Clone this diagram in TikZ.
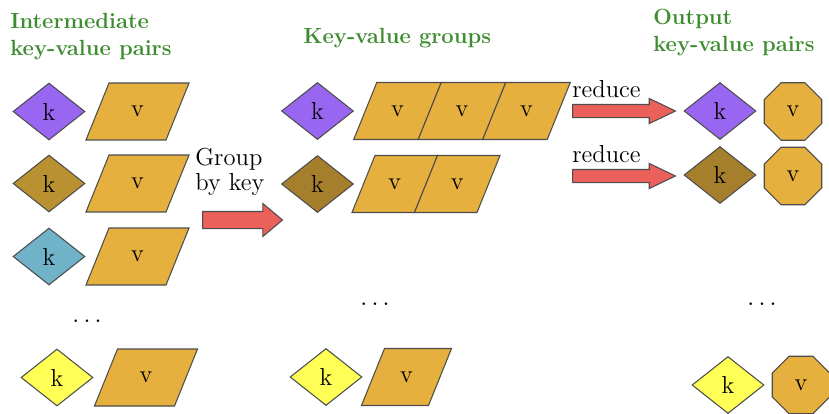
\documentclass[tikz,border=0pt]{standalone}
\usepackage{xcolor}
\usepackage{tikz}
\usetikzlibrary{shapes}
\usetikzlibrary{arrows}
\definecolor{keypurple}{HTML}{9966F2}
\definecolor{keybrown}{HTML}{B99130}
\definecolor{keydark}{HTML}{A67F2D}
\definecolor{keyteal}{HTML}{70B2C8}
\definecolor{keyyellow}{HTML}{FFFF55}
\definecolor{valorange}{HTML}{E6B03E}
\definecolor{arrowred}{HTML}{EB605A}
\definecolor{headgreen}{HTML}{3E8C30}
\definecolor{edgegray}{HTML}{4D4D4D}
\tikzset{
  key node/.style={diamond,draw=edgegray,line width=0.6pt,inner sep=0pt,
    minimum width=1.44cm,minimum height=1.14cm,font=\fontsize{14}{16}\selectfont},
  value node/.style={trapezium,trapezium left angle=68,trapezium right angle=112,
    draw=edgegray,fill=valorange,line width=0.6pt,inner sep=0pt,align=center,
    text height=0.675cm,text depth=0.465cm,font=\fontsize{14}{16}\selectfont},
  out node/.style={regular polygon,regular polygon sides=8,draw=edgegray,
    fill=valorange,line width=0.6pt,inner sep=0pt,minimum size=1.245cm,
    font=\fontsize{14}{16}\selectfont},
  big arrow/.style={single arrow,draw=edgegray,fill=arrowred,line width=0.6pt,
    inner xsep=0pt,single arrow head indent=0pt,anchor=tail},
  heading/.style={anchor=north west,align=left,inner sep=0pt,text=headgreen,
    font=\fontsize{12.5}{15.3}\selectfont\bfseries},
  plain/.style={inner sep=0pt,font=\fontsize{14}{14.2}\selectfont},
  dots/.style={inner sep=0pt,font=\fontsize{18}{18}\selectfont}
}
\newcommand{\threedots}{.\kern0.1em.\kern0.1em.}

\begin{document}
\begin{tikzpicture}[x=0.02cm,y=-0.02cm]
  \useasboundingbox (0,0) rectangle (829,413);
  % intermediate pairs
  \node [heading] (h1) at (10,13) {Intermediate\\key-value pairs};
  \node [key node,fill=keypurple] (k1) at (49,111.5) {k};
  \node [value node,text width=1.14cm] (v1) at (137.5,111.5) {v};
  \node [key node,fill=keybrown] (k2) at (49,183.5) {k};
  \node [value node,text width=1.14cm] (v2) at (137.5,183.5) {v};
  \node [key node,fill=keyteal] (k3) at (49,256.5) {k};
  \node [value node,text width=1.14cm] (v3) at (137.5,256.5) {v};
  \node [dots] (d1) at (87,321) {\threedots};
  \node [key node,fill=keyyellow] (k4) at (57,377.5) {k};
  \node [value node,text width=1.14cm] (v4) at (146,377.5) {v};
  % grouping
  \node [plain,anchor=north west,align=left] (grp) at (195,148) {Group\\by key};
  \node [big arrow,inner ysep=0.16cm,minimum height=1.6cm,
    single arrow head extend=0.16cm,single arrow tip angle=80] (ga) at (202,220) {};
  \node [heading] (h2) at (303,28) {Key-value groups};
  \node [key node,fill=keypurple] (gk1) at (317.5,111) {k};
  \node [value node,text width=0.83cm] (gv11) at (397.5,111) {v};
  \node [value node,text width=0.83cm] (gv12) at (462,111) {v};
  \node [value node,text width=0.83cm] (gv13) at (526.5,111) {v};
  \node [key node,fill=keydark] (gk2) at (317.5,184) {k};
  \node [value node,text width=0.79cm] (gv21) at (394.75,184) {v};
  \node [value node,text width=0.79cm] (gv22) at (457.25,184) {v};
  \node [dots] (d2) at (375,304) {\threedots};
  \node [key node,fill=keyyellow] (gk4) at (326,377) {k};
  \node [value node,text width=0.88cm] (gv41) at (406.5,377) {v};
  % reducing
  \node [big arrow,inner ysep=0.12cm,minimum height=2.06cm,
    single arrow head extend=0.12cm,single arrow tip angle=51] (ra1) at (572,111) {};
  \node [plain,anchor=base west] (rl1) at (572,97) {reduce};
  \node [big arrow,inner ysep=0.12cm,minimum height=2.06cm,
    single arrow head extend=0.12cm,single arrow tip angle=51] (ra2) at (572,176) {};
  \node [plain,anchor=base west] (rl2) at (572,162) {reduce};
  % output pairs
  \node [heading] (h3) at (653,9) {Output\\key-value pairs};
  \node [key node,fill=keypurple] (ok1) at (720,111) {k};
  \node [out node] (ov1) at (793,111.5) {v};
  \node [key node,fill=keydark] (ok2) at (720,175) {k};
  \node [out node] (ov2) at (793,176) {v};
  \node [dots] (d3) at (762,304) {\threedots};
  \node [key node,fill=keyyellow] (ok4) at (728,385) {k};
  \node [out node] (ov4) at (801,385) {v};
\end{tikzpicture}
\end{document}
